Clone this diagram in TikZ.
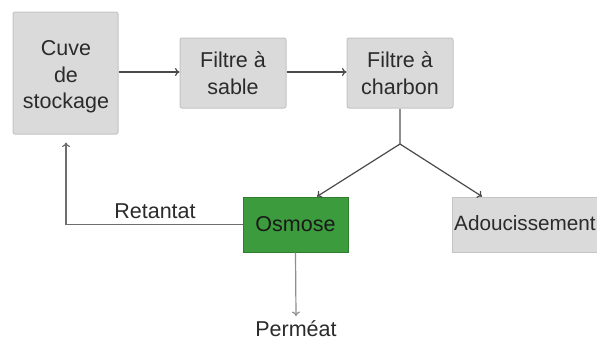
\documentclass[tikz,border=0pt]{standalone}
\usepackage{fontspec}
\setmainfont{Liberation Sans}
\usetikzlibrary{arrows.meta}
\definecolor{boxfill}{HTML}{DADADA}
\definecolor{boxline}{HTML}{C4C4C4}
\definecolor{osmfill}{HTML}{3C9B3C}
\definecolor{osmline}{HTML}{2E7E2E}
\definecolor{txt}{HTML}{2B2B2B}
\definecolor{darkarrow}{HTML}{4A4A4A}
\definecolor{lightarrow}{HTML}{8E8E8E}
\tikzset{
  unit/.style={fill=boxfill, draw=boxline, line width=1pt, rounded corners=2pt,
    text=txt, align=center, inner sep=0pt,
    font=\fontsize{21.5}{26.5}\selectfont},
  greenunit/.style={unit, fill=osmfill, draw=osmline, rounded corners=0pt, text=black!90},
  label/.style={text=txt, inner sep=0pt, font=\fontsize{21.5}{26}\selectfont},
  tip/.style={-{To[length=4.5pt,width=8pt,line width=1.2pt]}},
  flow/.style={draw=darkarrow, line width=1.2pt, tip},
  lightflow/.style={draw=lightarrow, line width=1.2pt, tip},
  plainline/.style={draw=lightarrow, line width=1.2pt},
}
\begin{document}
\begin{tikzpicture}[x=1pt, y=-1pt]
  \clip (0,0) rectangle (597,340);
  \fill[white] (0,0) rectangle (597,340);

  % process units
  \node[unit, minimum width=105pt, minimum height=122pt] (cuve) at (65.5,73) {};
  \node[text=txt, align=center, inner sep=0pt, font=\fontsize{21.5}{26.5}\selectfont]
    (cuvetext) at (66,77) {Cuve\\de\\stockage};
  \node[unit, minimum width=106pt, minimum height=70pt] (sable) at (233,73)
    {Filtre à\\sable};
  \node[unit, minimum width=106pt, minimum height=70pt] (charbon) at (400,73)
    {Filtre à\\charbon};
  \node[greenunit, minimum width=105pt, minimum height=55pt] (osmose) at (295.5,224.5)
    {Osmose};
  \node[unit, rounded corners=0pt, minimum width=160pt, minimum height=55pt] (adouc) at (532,224.5) {};
  \node[text=txt, inner sep=0pt, font=\fontsize{20.7}{26}\selectfont, anchor=west]
    (adouctext) at (454,223) {Adoucissement};

  % branch point and free ends
  \coordinate (split) at (400,144);
  \coordinate (retour) at (66,142.5);
  \coordinate (coin) at (66,224.5);

  % main line
  \draw[flow] (cuve.east |- 0,72) -- (sable.west |- 0,72);
  \draw[flow] (sable.east |- 0,72) -- (charbon.west |- 0,72);
  \draw[plainline] (charbon.south) -- (split);
  \draw[flow] (split) -- (317,196.5) coordinate (osmin);
  \draw[flow] (split) -- (482,196.5) coordinate (adoucin);

  % retentate recycled to the storage tank
  \draw[draw=darkarrow!80, line width=1.2pt, tip]
    (osmose.west) -- (coin) -- (retour);
  \node[label] (retantat) at (155,211) {Retantat};

  % permeate outlet
  \node[label] (permeat) at (296,329) {Perméat};
  \draw[lightflow] (osmose.south) -- (permeat.north |- 0,316);
\end{tikzpicture}
\end{document}
